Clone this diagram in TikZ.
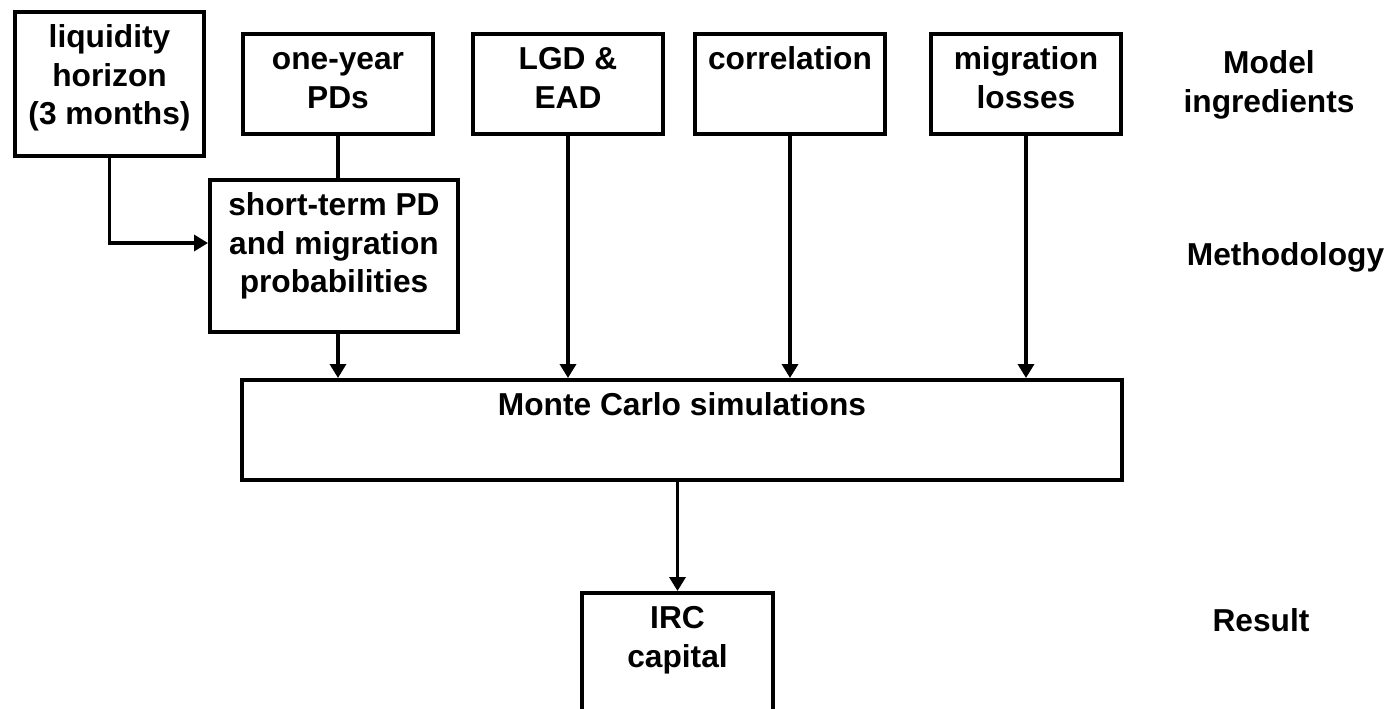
\documentclass[tikz,border=0pt]{standalone}
\usepackage{fontspec}
\setmainfont{Liberation Sans}
\usetikzlibrary{arrows.meta,calc}
\begin{document}
\begin{tikzpicture}[x=0.5pt,y=-0.5pt,
  box/.style={draw, line width=2pt, inner sep=0pt},
  txt/.style={anchor=north, inner sep=0pt, align=center, font=\fontsize{15.85}{19.3}\selectfont\bfseries},
  conn/.style={line width=1.7pt},
  arr/.style={conn, -{Triangle[length=7pt,width=8pt]}}]
\useasboundingbox (0,0) rectangle (1388,708);
\clip (0,0) rectangle (1388,708);
\fill[white] (0,0) rectangle (1388,708);
% boxes
\node[box, minimum width=94.5pt, minimum height=72pt] (liq) at (109.5,84) {};
\node[box, minimum width=95pt, minimum height=50pt] (one) at (338,84) {};
\node[box, minimum width=95pt, minimum height=50pt] (lgd) at (568,84) {};
\node[box, minimum width=95pt, minimum height=50pt] (cor) at (790,84) {};
\node[box, minimum width=95pt, minimum height=50pt] (mig) at (1026,84) {};
\node[box, minimum width=124pt, minimum height=76pt] (short) at (334,256) {};
\node[box, minimum width=440pt, minimum height=50pt] (mc) at (682,430) {};
\node[box, minimum width=95.5pt, minimum height=68.5pt] (irc) at (677.5,661.5) {};
% texts
\node[txt] (liqt) at ($(liq.north)+(0,10)$) {\strut liquidity\\horizon\\(3 months)};
\node[txt] (onet) at ($(one.north)+(0,10)$) {\strut one-year\\PDs};
\node[txt] (lgdt) at ($(lgd.north)+(0,10)$) {\strut LGD \&\\EAD};
\node[txt] (cort) at ($(cor.north)+(0,10)$) {\strut correlation};
\node[txt] (migt) at ($(mig.north)+(0,10)$) {\strut migration\\losses};
\node[txt] (shortt) at ($(short.north)+(0,10)$) {\strut short-term PD\\and migration\\probabilities};
\node[txt] (mct) at ($(mc.north)+(0,10)$) {\strut Monte Carlo simulations};
\node[txt] (irct) at ($(irc.north)+(0,10)$) {\strut IRC\\capital};
% right labels
\node[txt] (lmodel) at (1269,46) {\strut Model\\ingredients};
\node[txt, anchor=base] (lmeth) at (1285.5,265) {Methodology};
\node[txt, anchor=base] (lres) at (1261,631) {Result};
% connectors
\coordinate (sin) at ($(short.west)+(0,-13)$);
\draw[arr] (liq.south) |- (sin);
\draw[conn] (one.south) -- (one.south |- short.north);
\draw[arr] (one.south |- short.south) -- (one.south |- mc.north);
\draw[arr] (lgd.south) -- (lgd.south |- mc.north);
\draw[arr] (cor.south) -- (cor.south |- mc.north);
\draw[arr] (mig.south) -- (mig.south |- mc.north);
\draw[arr] (mc.south -| irc.north) -- (irc.north);
\end{tikzpicture}
\end{document}
